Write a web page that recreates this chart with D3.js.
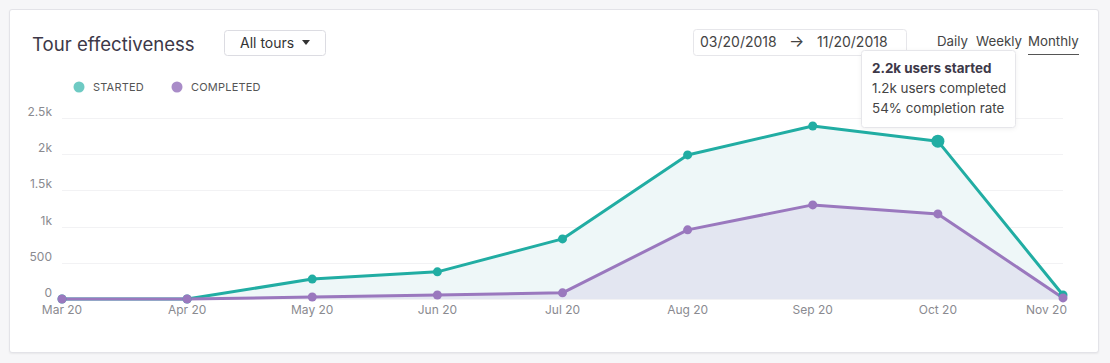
<!DOCTYPE html>
<html>
<head>
<meta charset="utf-8">
<script src="https://d3js.org/d3.v7.min.js"></script>
<style>
  body { margin: 0; background: #f6f6f8; font-family: Inter, "Open Sans", sans-serif; }
  .card { position: absolute; left: 9px; top: 9px; width: 1088px; height: 342px;
          background: #fff; border: 1px solid #e3e3e8; border-radius: 3px;
          box-shadow: 0 1px 2px rgba(0,0,0,0.06); }
  svg { position: absolute; left: 0; top: 0; }
</style>
</head>
<body>
<div class="card"></div>
<script>
// monthly values
var months = ["Mar 20", "Apr 20", "May 20", "Jun 20", "Jul 20", "Aug 20", "Sep 20", "Oct 20", "Nov 20"];
var started = [0, 0, 275, 375, 830, 1990, 2390, 2180, 55];
var completed = [0, 0, 28, 55, 85, 955, 1300, 1175, 15];
var yTicks = [0, 500, 1000, 1500, 2000, 2500];
var tickLabels = ["0", "500", "1k", "1.5k", "2k", "2.5k"];
var tooltipLines = ["2.2k users started", "1.2k users completed", "54% completion rate"];

var W = 1110, H = 363;
var teal = "#21ada3", purple = "#9a78be";

var svg = d3.select("body").append("svg").attr("width", W).attr("height", H);

var x = d3.scalePoint().domain(months).range([62, 1063]);
var y = d3.scaleLinear().domain([0, 2500]).range([299, 118]);

// header
svg.append("text").attr("x", 32).attr("y", 51).text("Tour effectiveness")
  .style("font-size", "18.6px").style("fill", "#3d3848");

svg.append("rect").attr("x", 224.5).attr("y", 30.5).attr("width", 101).attr("height", 25)
  .attr("rx", 3).attr("fill", "#fff").attr("stroke", "#dcdce2");
svg.append("text").attr("x", 240).attr("y", 48).text("All tours")
  .style("font-size", "14px").style("fill", "#333");
svg.append("path").attr("d", "M302,40 L310,40 L306,45 Z").attr("fill", "#333");

svg.append("rect").attr("x", 693.5).attr("y", 29.5).attr("width", 213).attr("height", 26)
  .attr("rx", 3).attr("fill", "#fff").attr("stroke", "#e6e6ea");
svg.append("text").attr("x", 700).attr("y", 47).text("03/20/2018")
  .style("font-size", "14px").style("fill", "#444");
svg.append("text").attr("x", 789).attr("y", 47).text("\u2192")
  .style("font-size", "16px").style("fill", "#444");
svg.append("text").attr("x", 817).attr("y", 47).text("11/20/2018")
  .style("font-size", "14px").style("fill", "#444");

[["Daily", 937], ["Weekly", 976], ["Monthly", 1028]].forEach(function (d) {
  svg.append("text").attr("x", d[1]).attr("y", 46).text(d[0])
    .style("font-size", "13.3px").style("fill", "#444");
});
svg.append("line").attr("x1", 1028).attr("x2", 1079).attr("y1", 54.5).attr("y2", 54.5)
  .attr("stroke", "#555").attr("stroke-width", 1);

// legend
var legend = [["STARTED", teal, 79], ["COMPLETED", purple, 177]];
legend.forEach(function (d) {
  svg.append("circle").attr("cx", d[2]).attr("cy", 87).attr("r", 5.5)
    .attr("fill", d[1]).attr("opacity", d[0] == "STARTED" ? 0.65 : 0.85);
  svg.append("text").attr("x", d[2] + 14).attr("y", 91).text(d[0])
    .style("font-size", "11px").style("fill", "#555").style("letter-spacing", "0.2px");
});

// grid
var g = svg.append("g");
g.selectAll(".grid").data(yTicks).enter().append("line")
  .attr("x1", 62).attr("x2", 1063)
  .attr("y1", function (d) { return Math.round(y(d)) + 0.5; })
  .attr("y2", function (d) { return Math.round(y(d)) + 0.5; })
  .attr("stroke", "#f2f2f4");
g.selectAll(".ylab").data(yTicks).enter().append("text")
  .attr("x", 52).attr("y", function (d) { return y(d) - 2; })
  .attr("text-anchor", "end").text(function (d, i) { return tickLabels[i]; })
  .style("font-size", "12px").style("fill", "#8a8a90");

// areas
var area = function (vals) {
  return d3.area().x(function (d, i) { return x(months[i]); })
    .y0(y(0)).y1(function (d) { return y(d); })(vals);
};
var line = function (vals) {
  return d3.line().x(function (d, i) { return x(months[i]); })
    .y(function (d) { return y(d); })(vals);
};
svg.append("path").attr("d", area(started)).attr("fill", "#eef7f8");
svg.append("path").attr("d", area(completed)).attr("fill", "#e3e6f1");

svg.append("path").attr("d", line(started)).attr("fill", "none")
  .attr("stroke", teal).attr("stroke-width", 3).attr("stroke-linejoin", "round");
svg.append("path").attr("d", line(completed)).attr("fill", "none")
  .attr("stroke", purple).attr("stroke-width", 3).attr("stroke-linejoin", "round");

svg.selectAll(".ps").data(started).enter().append("circle")
  .attr("cx", function (d, i) { return x(months[i]); })
  .attr("cy", function (d) { return y(d); })
  .attr("r", function (d, i) { return i == 7 ? 6.5 : 4.5; })
  .attr("fill", teal);
svg.selectAll(".pc").data(completed).enter().append("circle")
  .attr("cx", function (d, i) { return x(months[i]); })
  .attr("cy", function (d) { return y(d); })
  .attr("r", 4.5).attr("fill", purple);

// x labels (last one kept inside the plot)
var last = months.length - 1;
svg.selectAll(".xlab").data(months).enter().append("text")
  .attr("x", function (d, i) { return i == last ? x(d) + 4 : x(d); }).attr("y", 314)
  .attr("text-anchor", function (d, i) { return i == last ? "end" : "middle"; })
  .text(function (d) { return d; })
  .style("font-size", "12px").style("fill", "#8a8a90");

// tooltip
var tip = svg.append("g").attr("transform", "translate(861,50)");
tip.append("rect").attr("x", 0.5).attr("y", 0.5).attr("width", 154).attr("height", 77)
  .attr("rx", 3).attr("fill", "#fff").attr("stroke", "#e6e6ea")
  .style("filter", "drop-shadow(0 1px 2px rgba(0,0,0,0.06))");
tooltipLines.forEach(function (t, i) {
  tip.append("text").attr("x", 11).attr("y", 23 + i * 20).text(t)
    .style("font-size", "13.4px").style("fill", i == 0 ? "#3d3848" : "#444")
    .style("font-weight", i == 0 ? "bold" : "normal");
});
</script>
</body>
</html>
